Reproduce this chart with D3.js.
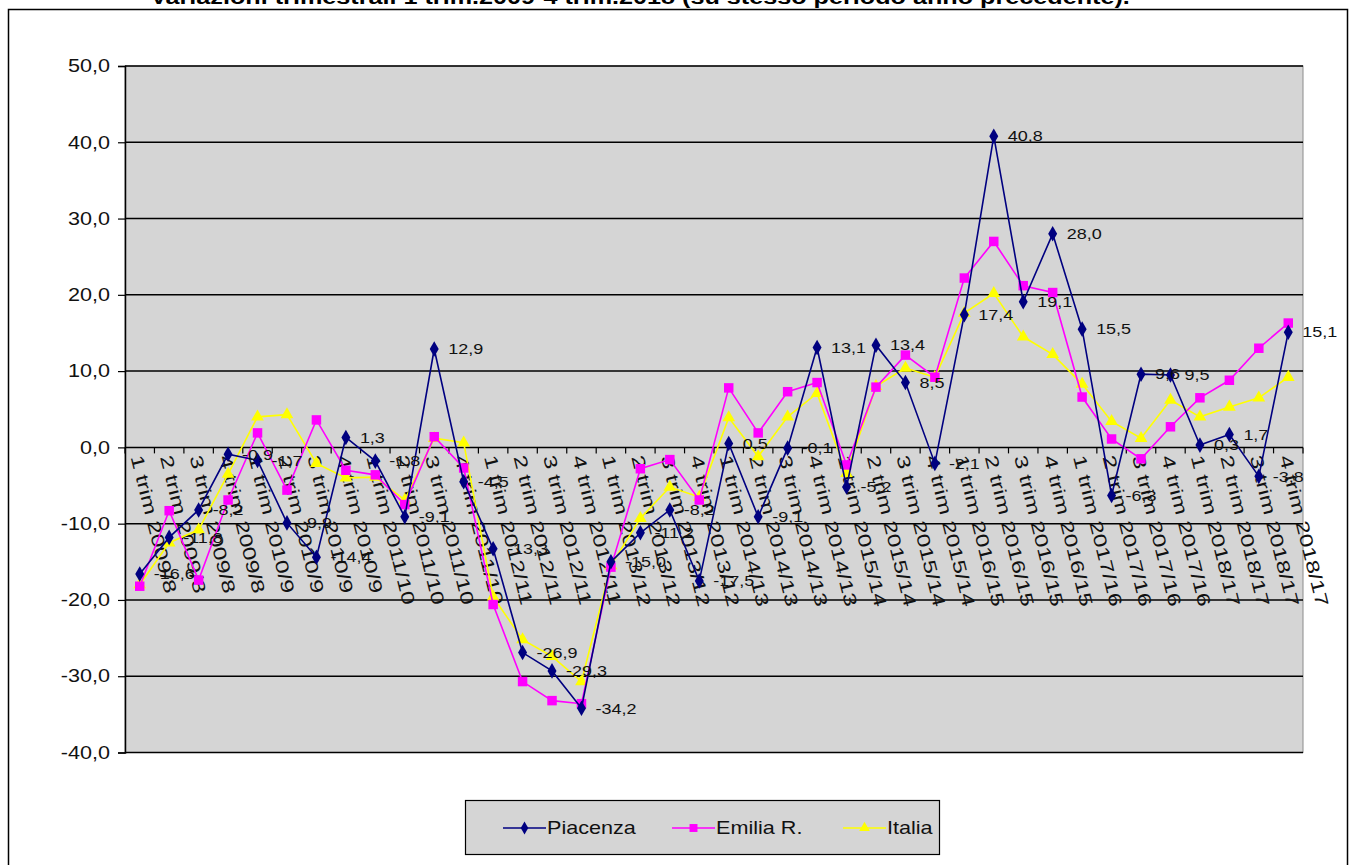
<!DOCTYPE html>
<html>
<head>
<meta charset="utf-8">
<script src="https://cdn.jsdelivr.net/npm/d3@7"></script>
<style>
  html, body { margin: 0; padding: 0; background: #ffffff; }
  svg { display: block; font-family: "Liberation Sans", Arial, sans-serif; }
</style>
</head>
<body>
<svg id="chart" width="1355" height="865"></svg>
<script>
// Quarterly changes vs. same period of previous year
const categories = [
  "1 trim 2009/8", "2 trim 2009/8", "3 trim 2009/8", "4 trim 2009/8",
  "1 trim 2010/9", "2 trim 2010/9", "3 trim 2010/9", "4 trim 2010/9",
  "1 trim 2011/10", "2 trim 2011/10", "3 trim 2011/10", "4 trim 2011/10",
  "1 trim 2012/11", "2 trim 2012/11", "3 trim 2012/11", "4 trim 2012/11",
  "1 trim 2013/12", "2 trim 2013/12", "3 trim 2013/12", "4 trim 2013/12",
  "1 trim 2014/13", "2 trim 2014/13", "3 trim 2014/13", "4 trim 2014/13",
  "1 trim 2015/14", "2 trim 2015/14", "3 trim 2015/14", "4 trim 2015/14",
  "1 trim 2016/15", "2 trim 2016/15", "3 trim 2016/15", "4 trim 2016/15",
  "1 trim 2017/16", "2 trim 2017/16", "3 trim 2017/16", "4 trim 2017/16",
  "1 trim 2018/17", "2 trim 2018/17", "3 trim 2018/17", "4 trim 2018/17"
];

const piacenza = [-16.6, -11.8, -8.2, -0.9, -1.7, -9.9, -14.4, 1.3, -1.8, -9.1,
  12.9, -4.5, -13.3, -26.9, -29.3, -34.2, -15.0, -11.2, -8.2, -17.5,
  0.5, -9.1, -0.1, 13.1, -5.2, 13.4, 8.5, -2.1, 17.4, 40.8,
  19.1, 28.0, 15.5, -6.3, 9.6, 9.5, 0.3, 1.7, -3.8, 15.1];

const emilia = [-18.2, -8.3, -17.4, -6.9, 1.9, -5.6, 3.6, -3.0, -3.6, -7.5,
  1.4, -2.7, -20.6, -30.7, -33.2, -33.6, -15.7, -2.8, -1.6, -6.9,
  7.8, 1.9, 7.3, 8.5, -2.3, 7.9, 12.1, 9.2, 22.2, 27.0,
  21.2, 20.3, 6.6, 1.1, -1.5, 2.7, 6.5, 8.8, 13.0, 16.3];

const italia = [-18.0, -12.5, -10.8, -3.5, 4.0, 4.3, -2.1, -4.0, -3.9, -6.9,
  1.2, 0.6, -19.6, -25.2, -27.4, -30.7, -15.5, -9.3, -5.2, -6.5,
  3.9, -1.2, 4.0, 7.1, -3.4, 8.0, 10.4, 9.2, 17.6, 20.2,
  14.5, 12.2, 8.3, 3.4, 1.2, 6.2, 4.0, 5.3, 6.5, 9.2];

const yTicks = [50, 40, 30, 20, 10, 0, -10, -20, -30, -40];
const seriesNames = ["Piacenza", "Emilia R.", "Italia"];

const titleText = "Variazioni trimestrali 1 trim.2009-4 trim.2018 (su stesso periodo anno precedente).";

// Italian number format with hyphen minus: -16,6
const fmt = v => d3.format(".1f")(v).replace("\u2212", "-").replace(".", ",");

// text in this chart is drawn slightly wide
const SX = 1.2;

const svg = d3.select("#chart");

// outer chart frame
svg.append("rect")
  .attr("x", 8.5).attr("y", 9.5).attr("width", 1339).attr("height", 870)
  .attr("fill", "#ffffff").attr("stroke", "#000").attr("stroke-width", 1.5);

// title (sits on the top edge of the frame)
svg.append("text")
  .attr("transform", "translate(640,4) scale(1.26,1)")
  .attr("text-anchor", "middle")
  .attr("font-size", 20).attr("font-weight", "bold")
  .text(titleText);

const plot = { left: 125, right: 1303, top: 66, bottom: 752.5 };

const x = d3.scaleBand().domain(categories).range([plot.left, plot.right]).padding(0);
const y = d3.scaleLinear().domain([-40, 50]).range([plot.bottom, plot.top]);
const cx = c => x(c) + x.bandwidth() / 2;

// plot background
svg.append("rect")
  .attr("x", plot.left).attr("y", plot.top)
  .attr("width", plot.right - plot.left).attr("height", plot.bottom - plot.top)
  .attr("fill", "#d5d5d5").attr("stroke", "#8c8c8c").attr("stroke-width", 1);

// horizontal gridlines
svg.append("g").selectAll("line").data(yTicks).join("line")
  .attr("x1", plot.left).attr("x2", plot.right)
  .attr("y1", d => y(d)).attr("y2", d => y(d))
  .attr("stroke", "#000").attr("stroke-width", 1.5);

// y axis
const yAxis = d3.axisLeft(y).tickValues(yTicks).tickSize(7).tickPadding(8).tickFormat(fmt);
const gy = svg.append("g").attr("transform", `translate(${plot.left},0)`).call(yAxis);
gy.attr("font-size", null).attr("font-family", null);
gy.select(".domain").attr("stroke", "#000").attr("stroke-width", 1.5);
gy.selectAll(".tick line").attr("stroke", "#000").attr("stroke-width", 1.2);
gy.selectAll(".tick text")
  .attr("x", null)
  .attr("transform", `translate(-15,0) scale(${SX},1)`)
  .attr("font-size", 18).attr("fill", "#111");

// x axis at zero with tick marks on category boundaries
svg.append("g").selectAll("line").data(categories.concat(["__end"])).join("line")
  .attr("x1", (d, i) => plot.left + i * x.step())
  .attr("x2", (d, i) => plot.left + i * x.step())
  .attr("y1", y(0)).attr("y2", y(0) + 6)
  .attr("stroke", "#000").attr("stroke-width", 1.2);

svg.append("g").selectAll("text").data(categories).join("text")
  .attr("transform", d => `translate(${cx(d) - 3},${y(0) + 8}) rotate(76) scale(1.35,1)`)
  .attr("dy", "0.35em")
  .attr("font-size", 18).attr("fill", "#111")
  .text(d => d);

// series lines and markers
const line = d3.line().x((d, i) => cx(categories[i])).y(d => y(d));

const series = [
  { name: seriesNames[0], values: piacenza, color: "#000080", marker: d3.symbolDiamond, size: 70 },
  { name: seriesNames[1], values: emilia, color: "#ff00ff", marker: d3.symbolSquare, size: 90 },
  { name: seriesNames[2], values: italia, color: "#ffff00", marker: d3.symbolTriangle, size: 70 }
];

// draw Italia first, Piacenza on top
[series[2], series[1], series[0]].forEach(s => {
  svg.append("path").datum(s.values)
    .attr("d", line)
    .attr("fill", "none").attr("stroke", s.color).attr("stroke-width", 1.6);
  svg.append("g").selectAll("path").data(s.values).join("path")
    .attr("transform", (d, i) => `translate(${cx(categories[i])},${y(d)})`)
    .attr("d", d3.symbol().type(s.marker).size(s.size))
    .attr("fill", s.color);
});

// value labels for Piacenza
svg.append("g").selectAll("text").data(piacenza).join("text")
  .attr("transform", (d, i) => `translate(${cx(categories[i]) + 14},${y(d)}) scale(${SX},1)`)
  .attr("dy", "0.35em")
  .attr("font-size", 15).attr("fill", "#111")
  .text(d => fmt(d));

// legend
const lg = svg.append("g");
lg.append("rect")
  .attr("x", 465.5).attr("y", 800.5).attr("width", 474).attr("height", 54)
  .attr("fill", "#d5d5d5").attr("stroke", "#000").attr("stroke-width", 1.2);

const legendX = [503, 672, 843];
series.forEach((s, i) => {
  const g = lg.append("g").attr("transform", `translate(${legendX[i]},828)`);
  g.append("line").attr("x1", 0).attr("x2", 43).attr("y1", 0).attr("y2", 0)
    .attr("stroke", s.color).attr("stroke-width", 1.6);
  g.append("path").attr("transform", "translate(21.5,0)")
    .attr("d", d3.symbol().type(s.marker).size(s.size * 0.7)).attr("fill", s.color);
  g.append("text").attr("transform", `translate(44,0) scale(${SX},1)`).attr("dy", "0.35em")
    .attr("font-size", 18).attr("fill", "#111").text(s.name);
});
</script>
</body>
</html>
